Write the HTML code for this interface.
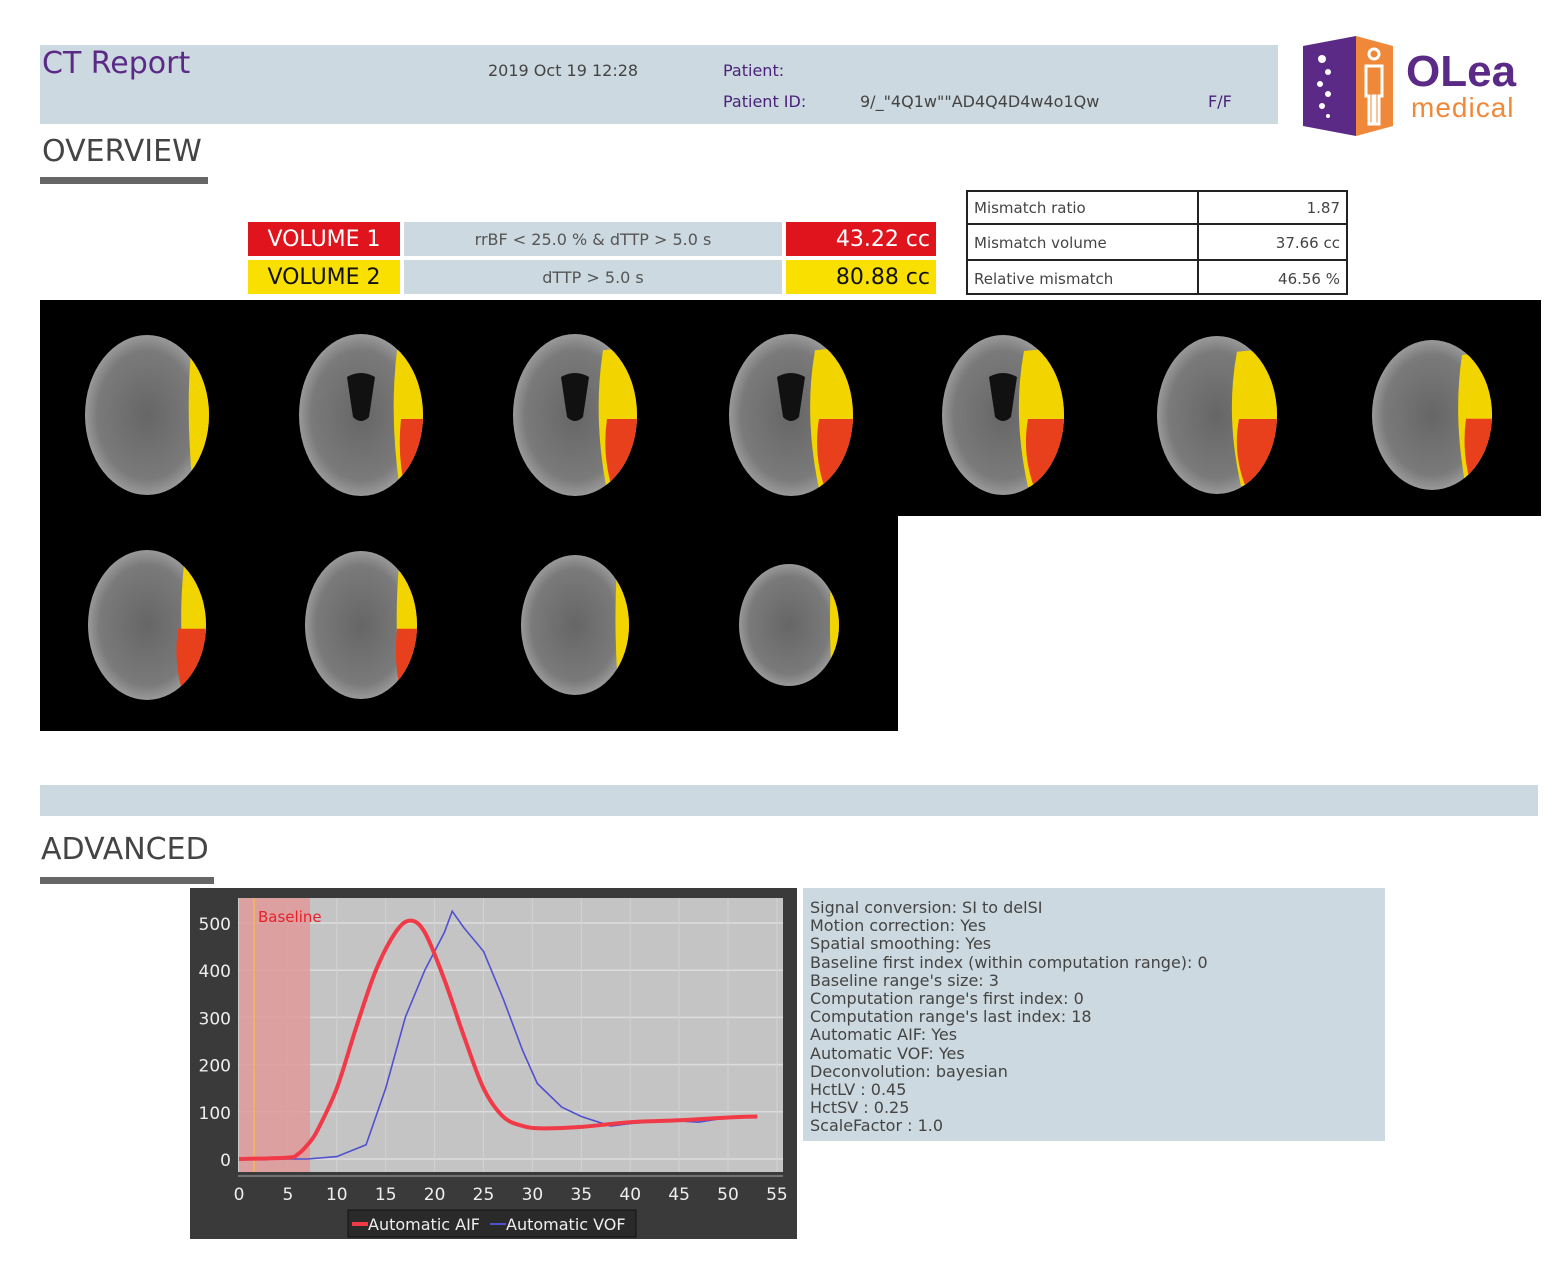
<!DOCTYPE html>
<html><head><meta charset="utf-8"><style>
body{margin:0;width:1565px;height:1279px;background:#fff;position:relative;overflow:hidden;font-family:"DejaVu Sans","Liberation Sans",sans-serif}
.a{position:absolute}
.hdr{left:40px;top:45px;width:1238px;height:79px;background:#ccd9e0}
.pl{color:#4a2378;font-size:16px}
.cell{position:absolute;height:34px;line-height:36px;font-size:22px}
.mt{position:absolute;left:966px;top:190px;width:382px;height:105px;border:2px solid #222;box-sizing:border-box}
.mt div{position:absolute;font-size:15px;color:#444}
</style></head><body>
<div class="a hdr"></div>
<div class="a" style="left:42px;top:46px;font-size:30px;color:#5b2a86">CT Report</div>
<div class="a" style="left:488px;top:61px;font-size:16px;color:#444">2019 Oct 19 12:28</div>
<div class="a pl" style="left:723px;top:61px">Patient:</div>
<div class="a pl" style="left:723px;top:92px">Patient ID:</div>
<div class="a" style="left:860px;top:92px;font-size:16px;color:#444">9/_"4Q1w""AD4Q4D4w4o1Qw</div>
<div class="a pl" style="left:1208px;top:92px">F/F</div>
<svg class="a" style="left:1298px;top:34px" width="250" height="105">
<polygon points="5,12 58,2 58,102 5,92" fill="#5b2a86"/>
<polygon points="58,2 95,12 95,92 58,102" fill="#f0883a"/>
<g fill="#fff"><circle cx="24" cy="25" r="4"/><circle cx="30" cy="38" r="3"/><circle cx="22" cy="50" r="3"/><circle cx="30" cy="60" r="3"/><circle cx="24" cy="72" r="3"/><circle cx="30" cy="82" r="2"/></g>
<g fill="none" stroke="#fff" stroke-width="3"><circle cx="76" cy="20" r="5"/><path d="M68 32h16v30h-3v28h-4v-28h-2v28h-4v-28h-3z"/></g>
<text x="108" y="52" font-family="Liberation Sans" font-weight="bold" font-size="44" fill="#5b2a86">OLea</text>
<text x="113" y="83" font-family="Liberation Sans" font-size="28" fill="#f0883a" letter-spacing="1">medical</text>
</svg>
<div class="a" style="left:42px;top:134px;font-size:30px;color:#444">OVERVIEW</div>
<div class="a" style="left:40px;top:177px;width:168px;height:7px;background:#666"></div>
<div class="cell" style="left:248px;top:222px;width:152px;background:#e0141c;color:#fff;text-align:center">VOLUME 1</div>
<div class="cell" style="left:404px;top:222px;width:378px;background:#ccd9e0;color:#555;font-size:16px;text-align:center">rrBF &lt; 25.0 % &amp; dTTP &gt; 5.0 s</div>
<div class="cell" style="left:786px;top:222px;width:150px;background:#e0141c;color:#fff;text-align:right;box-sizing:border-box;padding-right:6px">43.22 cc</div>
<div class="cell" style="left:248px;top:260px;width:152px;background:#f9e000;color:#111;text-align:center">VOLUME 2</div>
<div class="cell" style="left:404px;top:260px;width:378px;background:#ccd9e0;color:#555;font-size:16px;text-align:center">dTTP &gt; 5.0 s</div>
<div class="cell" style="left:786px;top:260px;width:150px;background:#f9e000;color:#111;text-align:right;box-sizing:border-box;padding-right:6px">80.88 cc</div>
<div class="mt">
<div style="left:229px;top:0;width:2px;height:101px;background:#222"></div>
<div style="left:0;top:31px;width:378px;height:2px;background:#222"></div>
<div style="left:0;top:67px;width:378px;height:2px;background:#222"></div>
<div style="left:6px;top:7px">Mismatch ratio</div><div style="right:6px;top:7px">1.87</div>
<div style="left:6px;top:42px">Mismatch volume</div><div style="right:6px;top:42px">37.66 cc</div>
<div style="left:6px;top:78px">Relative mismatch</div><div style="right:6px;top:78px">46.56 %</div>
</div>
<div class="a" style="left:40px;top:300px;width:1501px;height:216px;background:#000"></div>
<div class="a" style="left:40px;top:516px;width:858px;height:215px;background:#000"></div>
<svg class="a" style="left:0;top:0" width="1565" height="760" id="br">
<defs><radialGradient id="g"><stop offset="0" stop-color="#666"/><stop offset=".8" stop-color="#7a7a7a"/><stop offset="1" stop-color="#999"/></radialGradient></defs>
</svg>
<div class="a" style="left:40px;top:785px;width:1498px;height:31px;background:#ccd9e0"></div>
<div class="a" style="left:41px;top:832px;font-size:30px;color:#444">ADVANCED</div>
<div class="a" style="left:40px;top:877px;width:174px;height:7px;background:#666"></div>
<div class="a" style="left:803px;top:888px;width:582px;height:253px;background:#ccd9e0"></div>
<div class="a" style="left:810px;top:899px;font-size:16px;line-height:18.2px;color:#444">Signal conversion: SI to delSI<br>Motion correction: Yes<br>Spatial smoothing: Yes<br>Baseline first index (within computation range): 0<br>Baseline range's size: 3<br>Computation range's first index: 0<br>Computation range's last index: 18<br>Automatic AIF: Yes<br>Automatic VOF: Yes<br>Deconvolution: bayesian<br>HctLV : 0.45<br>HctSV : 0.25<br>ScaleFactor : 1.0</div>
<svg class="a" style="left:0;top:0" width="1565" height="1279" id="ch" font-family="DejaVu Sans,Liberation Sans,sans-serif">
<rect x="190" y="888" width="607" height="351" fill="#3a3a3a"/>
<rect x="238" y="898" width="545" height="274" fill="#c4c4c4"/>
<rect x="348" y="1210" width="288" height="27" fill="#2a2a2a" stroke="#111"/>
<line x1="352" y1="1224" x2="368" y2="1224" stroke="#f03a48" stroke-width="4"/>
<text x="368" y="1230" fill="#eee" font-size="16">Automatic AIF</text>
<line x1="490" y1="1224" x2="506" y2="1224" stroke="#5050d0" stroke-width="2"/>
<text x="506" y="1230" fill="#eee" font-size="16">Automatic VOF</text>
</svg>
<script>
var ns="http://www.w3.org/2000/svg";
function el(p,t,a){var e=document.createElementNS(ns,t);for(var k in a)e.setAttribute(k,a[k]);p.appendChild(e);return e;}
var br=document.getElementById('br');var defs=br.querySelector('defs');
var n=0;
function brain(cx,cy,rx,ry,w,red,vent){
 n++;var cp=el(defs,'clipPath',{id:'c'+n});el(cp,'ellipse',{cx:cx,cy:cy,rx:rx,ry:ry});
 el(br,'ellipse',{cx:cx,cy:cy,rx:rx,ry:ry,fill:'url(#g)'});
 var g=el(br,'g',{'clip-path':'url(#c'+n+')'});
 if(vent)el(g,'path',{d:'M'+(cx-14)+' '+(cy-38)+' q14 -8 28 0 l-6 40 q-8 8 -16 0z',fill:'#111'});
 el(g,'path',{d:'M'+(cx+rx-w)+' '+(cy-ry*0.8)+' q'+(-w*0.3)+' '+(ry*0.8)+' '+(w*0.1)+' '+(ry*1.7)+' l'+(w*2)+' 0 l0 '+(-ry*1.8)+'z',fill:'#f2d400'});
 if(red)el(g,'path',{d:'M'+(cx+rx-red)+' '+(cy+ry*0.05)+' q'+(-red*0.2)+' '+(ry*0.5)+' '+(red*0.3)+' '+(ry)+' l'+(red*2)+' 0 l0 '+(-ry)+'z',fill:'#e8401c'});
}
var row1=[[147,62,80,18,0,0],[361,62,81,26,22,1],[575,62,81,34,30,1],[791,62,81,38,34,1],[1003,61,80,40,36,1],[1217,60,79,40,38,0],[1432,60,75,30,26,0]];
row1.forEach(function(b){brain(b[0],415,b[1],b[2],b[3],b[4],b[5]);});
var row2=[[147,59,75,22,28],[361,56,74,18,20],[575,54,70,12,0],[789,50,61,8,0]];
row2.forEach(function(b){brain(b[0],625,b[1],b[2],b[3],b[4],0);});
var ch=document.getElementById('ch');
function X(t){return 239+9.78*t} function Y(v){return 1159-0.472*v}
for(var v=0;v<=500;v+=100){el(ch,'line',{x1:238,x2:783,y1:Y(v),y2:Y(v),stroke:'#ddd','stroke-width':1.5});
 var t=el(ch,'text',{x:231,y:Y(v)+7,fill:'#eee','font-size':17,'text-anchor':'end'});t.textContent=v;}
for(var x=0;x<=55;x+=5){el(ch,'line',{x1:X(x),x2:X(x),y1:898,y2:1172,stroke:'#d2d2d2','stroke-width':1});
 var t=el(ch,'text',{x:X(x),y:1200,fill:'#eee','font-size':17,'text-anchor':'middle'});t.textContent=x;}
el(ch,'rect',{x:239,y:898,width:71,height:274,fill:'#e29a9a',opacity:0.85});
el(ch,'line',{x1:254,y1:898,x2:254,y2:1172,stroke:'#f5b84a','stroke-width':1.5});
var lab=el(ch,'text',{x:258,y:922,fill:'#e8202a','font-size':15});lab.textContent='Baseline';
el(ch,'line',{x1:238,x2:783,y1:1176,y2:1176,stroke:'#aaa','stroke-width':1});
var aif=[[0,0],[5,3],[6,10],[7,30],[8,60],[10,150],[12,280],[14,400],[16,480],[17.5,505],[19,480],[21,380],[23,260],[25,150],[27,90],[29,70],[31,65],[35,68],[40,78],[45,82],[50,88],[53,90]];
var vof=[[0,0],[7,0],[10,5],[13,30],[15,150],[17,300],[19,400],[21,480],[21.8,525],[23,490],[25,440],[27,340],[29,230],[30.5,160],[33,110],[35,90],[38,70],[40,75],[44,82],[47,78],[50,88],[53,90]];
function pts(a){return a.map(function(p){return X(p[0]).toFixed(1)+','+Y(p[1]).toFixed(1)}).join(' ')}
function smooth(a){var P=a.map(function(p){return [X(p[0]),Y(p[1])]});var d='M'+P[0][0]+' '+P[0][1];
 for(var i=0;i<P.length-1;i++){var p0=P[i-1]||P[i],p1=P[i],p2=P[i+1],p3=P[i+2]||p2;
 d+=' C'+(p1[0]+(p2[0]-p0[0])/6)+' '+(p1[1]+(p2[1]-p0[1])/6)+' '+(p2[0]-(p3[0]-p1[0])/6)+' '+(p2[1]-(p3[1]-p1[1])/6)+' '+p2[0]+' '+p2[1];}return d;}
el(ch,'polyline',{points:pts(vof),fill:'none',stroke:'#5050d0','stroke-width':1.6});
el(ch,'path',{d:smooth(aif),fill:'none',stroke:'#f03a48','stroke-width':4,'stroke-linejoin':'round'});
</script>
</body></html>
